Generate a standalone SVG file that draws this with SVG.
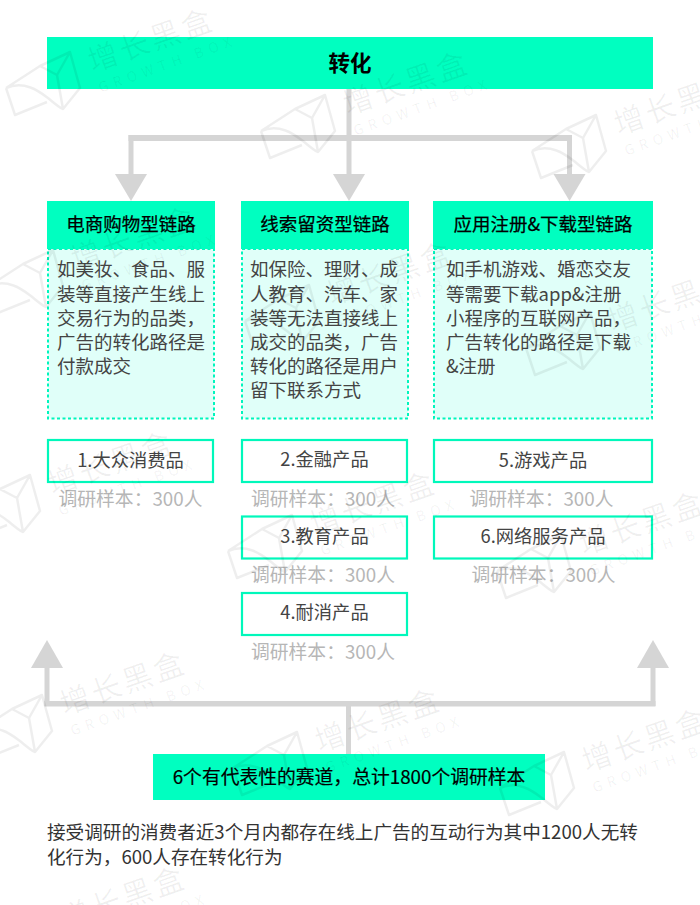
<svg xmlns="http://www.w3.org/2000/svg" width="700" height="905" viewBox="0 0 700 905">
<style>
text{font-family:"Noto Sans CJK SC","Noto Sans",sans-serif;}
.bar{fill:#00ffc0}
.body{fill:#e0fff9;stroke:#00f5bd;stroke-width:2;stroke-dasharray:3 2.5}
.item{fill:#fff;stroke:#00f8bb;stroke-width:2.2}
.hd{font-size:18.5px;fill:#000;stroke:#000;stroke-width:.25;text-anchor:middle}
.tx{font-size:18.5px;fill:#444}
.lb{font-size:18.300px;fill:#444;text-anchor:middle}
.gr{font-size:18.800px;fill:#b6b6b6;text-anchor:middle}
.ln{fill:#d5d5d5}
.wm-l{fill:none;stroke:#000;stroke-opacity:.065;stroke-width:2.5;stroke-linejoin:round}
.wm-a{font-size:30px;fill:#000;fill-opacity:.06;letter-spacing:3px}
.wm-b{font-size:14px;fill:#000;fill-opacity:.06;letter-spacing:5.500px}
</style>
<defs>
<g id="wm">
<g transform="translate(-103 -57)">
<path class="wm-l" d="M6 88L15 115L47 102M6 88C25 80 40 92 48 98C55 104 60 108 63 109L80 88L70 52L40 66L6 88M70 52L57 75L63 109M40 66L57 75"/>
</g>
<g transform="rotate(-19.5)">
<text class="wm-a" x="-15" y="11">增长黑盒</text>
<text class="wm-b" x="-14" y="33">GROWTH BOX</text>
</g>
</g>
</defs>
<g id="connectors">
<rect class="ln" x="346.5" y="89" width="5" height="50"/>
<rect class="ln" x="128.5" y="135" width="443.5" height="6"/>
<rect class="ln" x="128.5" y="135" width="5" height="42"/>
<rect class="ln" x="346.5" y="135" width="5" height="42"/>
<rect class="ln" x="567" y="135" width="5" height="42"/>
<polygon class="ln" points="115,174 147,174 131,201"/>
<polygon class="ln" points="333,174 365,174 349,201"/>
<polygon class="ln" points="553.500,174 585.500,174 569.500,201"/>
<rect class="ln" x="346" y="701" width="5" height="53"/>
<rect class="ln" x="44.500" y="701" width="611" height="5.500"/>
<rect class="ln" x="44.500" y="665" width="5" height="41"/>
<rect class="ln" x="650.500" y="665" width="5" height="41"/>
<polygon class="ln" points="31,668 63,668 47,640"/>
<polygon class="ln" points="637,668 669,668 653,640"/>
</g>
<g id="top"><rect class="bar" x="47" y="37" width="606" height="52"/><text x="350" y="71" font-size="21.500" font-weight="700" fill="#000" text-anchor="middle">转化</text></g>
<g id="col1">
<rect class="body" x="48" y="249" width="166" height="169.500"/>
<rect class="bar" x="47" y="201" width="168" height="48"/>
<text class="hd" x="131" y="231">电商购物型链路</text>
<text class="tx"><tspan x="57" y="276">如美妆、食品、服</tspan><tspan x="57" y="300.500">装等直接产生线上</tspan><tspan x="57" y="325">交易行为的品类，</tspan><tspan x="57" y="349">广告的转化路径是</tspan><tspan x="57" y="373">付款成交</tspan></text>
</g>
<g id="col2">
<rect class="body" x="242" y="249" width="166" height="169.500"/>
<rect class="bar" x="241" y="201" width="168" height="48"/>
<text class="hd" x="325" y="231">线索留资型链路</text>
<text class="tx"><tspan x="250" y="276">如保险、理财、成</tspan><tspan x="250" y="300.500">人教育、汽车、家</tspan><tspan x="250" y="325">装等无法直接线上</tspan><tspan x="250" y="349">成交的品类，广告</tspan><tspan x="250" y="373">转化的路径是用户</tspan><tspan x="250" y="397">留下联系方式</tspan></text>
</g>
<g id="col3">
<rect class="body" x="434" y="249" width="218" height="169.500"/>
<rect class="bar" x="433" y="201" width="220" height="48"/>
<text class="hd" x="543" y="231">应用注册&amp;下载型链路</text>
<text class="tx"><tspan x="446" y="276">如手机游戏、婚恋交友</tspan><tspan x="446" y="300.500">等需要下载app&amp;注册</tspan><tspan x="446" y="325">小程序的互联网产品，</tspan><tspan x="446" y="349">广告转化的路径是下载</tspan><tspan x="446" y="373">&amp;注册</tspan></text>
</g>
<g id="item1"><rect class="item" x="48" y="440" width="165" height="42"/><text class="lb" x="130.500" y="467">1.大众消费品</text><text class="gr" x="130.500" y="506">调研样本：300人</text></g>
<g id="item2"><rect class="item" x="242" y="440" width="165" height="42"/><text class="lb" x="324.500" y="466">2.金融产品</text><text class="gr" x="323" y="506">调研样本：300人</text></g>
<g id="item3"><rect class="item" x="242" y="516.500" width="165" height="42"/><text class="lb" x="324.500" y="543">3.教育产品</text><text class="gr" x="323" y="582">调研样本：300人</text></g>
<g id="item4"><rect class="item" x="242" y="593" width="165" height="42"/><text class="lb" x="324.500" y="619">4.耐消产品</text><text class="gr" x="323" y="659">调研样本：300人</text></g>
<g id="item5"><rect class="item" x="434" y="440" width="218" height="42"/><text class="lb" x="543" y="467">5.游戏产品</text><text class="gr" x="541.500" y="506">调研样本：300人</text></g>
<g id="item6"><rect class="item" x="434" y="516.500" width="218" height="42"/><text class="lb" x="543" y="543">6.网络服务产品</text><text class="gr" x="543.500" y="582">调研样本：300人</text></g>
<g id="summary"><rect class="bar" x="153" y="754" width="392" height="46"/><text x="349" y="784" font-size="18.800" fill="#000" stroke="#000" stroke-width=".2" text-anchor="middle">6个有代表性的赛道，总计1800个调研样本</text></g>
<g id="note"><text font-size="18.600" fill="#333"><tspan x="47" y="838.500">接受调研的消费者近3个月内都存在线上广告的互动行为其中1200人无转</tspan><tspan x="47" y="863.500">化行为，600人存在转化行为</tspan></text></g>
<g id="watermarks">
<use href="#wm" x="103" y="57"/>
<use href="#wm" x="358" y="100"/>
<use href="#wm" x="629" y="120"/>
<use href="#wm" x="86" y="255"/>
<use href="#wm" x="342" y="290"/>
<use href="#wm" x="623" y="317"/>
<use href="#wm" x="63" y="480"/>
<use href="#wm" x="325" y="520"/>
<use href="#wm" x="594" y="540"/>
<use href="#wm" x="75" y="700"/>
<use href="#wm" x="330" y="737"/>
<use href="#wm" x="597" y="757"/>
<use href="#wm" x="75" y="915"/>
</g>
</svg>
